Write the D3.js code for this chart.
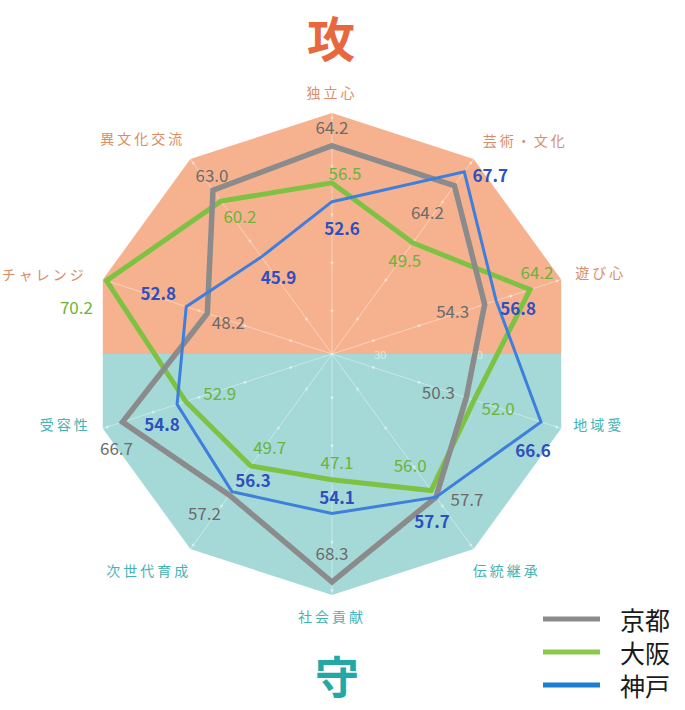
<!DOCTYPE html>
<html>
<head>
<meta charset="utf-8">
<script src="https://cdn.jsdelivr.net/npm/d3@7"></script>
<style>
  html, body { margin: 0; padding: 0; background: #ffffff; }
  svg { display: block; font-family: "Noto Sans CJK JP", "Noto Sans", sans-serif; }
</style>
</head>
<body>
<div id="chart"></div>
<script>
// axes clockwise from the top
const axes = ['独立心', '芸術・文化', '遊び心', '地域愛', '伝統継承', '社会貢献', '次世代育成', '受容性', 'チャレンジ', '異文化交流'];
const kyoto = [64.2, 64.2, 54.3, 50.3, 57.7, 68.3, 57.2, 66.7, 48.2, 63.0];
const osaka = [56.5, 49.5, 64.2, 52.0, 56.0, 47.1, 49.7, 52.9, 70.2, 60.2];
const kobe = [52.6, 67.7, 56.8, 66.6, 57.7, 54.1, 56.3, 54.8, 52.8, 45.9];
const cities = ['京都', '大阪', '神戸'];
const valueDomain = [21, 71];
const tickValues = [30, 50];
const gridTicks = [30, 40, 50, 60, 70];

// value label nudges from each vertex (hand placed in the original)
const kyotoLabelOff = [[0, -19], [-27, 26], [-32, 6], [-28, -6], [31, 1], [0, -29], [-25, 17], [-6, 25], [21, 8], [-1, -16]];
const osakaLabelOff = [[13, -10], [-8, 17], [7, -18], [24, 7], [-21, -26], [5, -18], [19, -19], [34, -9], [-30, 26], [19, 14]];
const kobeLabelOff = [[10, 26], [26, 3], [22, 7], [-8, 28], [-4, 23], [5, -17], [21, -12], [-15, 19], [-28, -14], [17, 20]];

const width = 685, height = 710;
const cx = 332, cy = 354, R = 241;
const step = 2 * Math.PI / axes.length;

const svg = d3.select('#chart').append('svg')
  .attr('width', width)
  .attr('height', height);

const r = d3.scaleLinear().domain(valueDomain).range([0, R]);
const px = (i, rad) => cx + rad * Math.sin(i * step);
const py = (i, rad) => cy - rad * Math.cos(i * step);

const defs = svg.append('defs');
defs.append('clipPath').attr('id', 'top-half')
  .append('rect').attr('x', 0).attr('y', 0).attr('width', width).attr('height', cy);
defs.append('clipPath').attr('id', 'bottom-half')
  .append('rect').attr('x', 0).attr('y', cy).attr('width', width).attr('height', height - cy);

// background decagon: orange top (攻), teal bottom (守)
const outline = d3.lineRadial()
  .angle((d, i) => i * step)
  .radius(R)
  .curve(d3.curveLinearClosed);

svg.append('g').attr('clip-path', 'url(#top-half)')
  .append('path')
  .attr('transform', `translate(${cx},${cy})`)
  .attr('d', outline(axes))
  .attr('fill', '#f6b28f');

svg.append('g').attr('clip-path', 'url(#bottom-half)')
  .append('path')
  .attr('transform', `translate(${cx},${cy})`)
  .attr('d', outline(axes))
  .attr('fill', '#a4d9d8');

// spokes + small tick dots
const grid = svg.append('g').attr('transform', `translate(${cx},${cy})`);
grid.selectAll('line')
  .data(axes)
  .join('line')
  .attr('x1', 0).attr('y1', 0)
  .attr('x2', (d, i) => R * Math.sin(i * step))
  .attr('y2', (d, i) => -R * Math.cos(i * step))
  .attr('stroke', '#ffffff')
  .attr('stroke-opacity', 0.4)
  .attr('stroke-width', 1);

axes.forEach((a, i) => {
  grid.selectAll(null)
    .data(gridTicks)
    .join('circle')
    .attr('cx', d => r(d) * Math.sin(i * step))
    .attr('cy', d => -r(d) * Math.cos(i * step))
    .attr('r', 1.5)
    .attr('fill', '#ffffff')
    .attr('fill-opacity', 0.45);
});

grid.selectAll('text.tick')
  .data(tickValues)
  .join('text')
  .attr('class', 'tick')
  .attr('x', d => r(d) + 5)
  .attr('y', 0)
  .attr('text-anchor', 'middle')
  .attr('dominant-baseline', 'central')
  .attr('font-size', 11)
  .attr('fill', '#ffffff')
  .attr('fill-opacity', 0.55)
  .text(d => d);

// series
const series = [
  { name: '大阪', values: osaka, color: '#7dc242', text: '#6db33a', width: 5, weight: 400, off: osakaLabelOff },
  { name: '京都', values: kyoto, color: '#8b8b8b', text: '#6b6b6b', width: 5.5, weight: 400, off: kyotoLabelOff },
  { name: '神戸', values: kobe, color: '#3f7fdc', text: '#2e4fbf', width: 3, weight: 700, off: kobeLabelOff }
];

const radar = d3.lineRadial()
  .angle((d, i) => i * step)
  .radius(d => r(d))
  .curve(d3.curveLinearClosed);

const lines = svg.append('g').attr('transform', `translate(${cx},${cy})`);
series.forEach(s => {
  lines.append('path')
    .attr('d', radar(s.values))
    .attr('fill', 'none')
    .attr('stroke', s.color)
    .attr('stroke-width', s.width)
    .attr('stroke-linejoin', 'miter')
    .attr('stroke-miterlimit', 10);
});

series.forEach(s => {
  svg.append('g').selectAll('text')
    .data(s.values)
    .join('text')
    .attr('x', (d, i) => px(i, r(d)) + s.off[i][0])
    .attr('y', (d, i) => py(i, r(d)) + s.off[i][1])
    .attr('text-anchor', 'middle')
    .attr('dominant-baseline', 'central')
    .attr('font-size', 17)
    .attr('font-weight', s.weight)
    .attr('fill', s.text)
    .text(d => d.toFixed(1));
});

// axis names
const labelR = 260;
const labelNudge = [[0, -2], [-2, -4], [-4, -2], [-6, -10], [-12, 6], [0, 2], [12, 6], [6, -10], [2, 0], [6, -6]];
svg.append('g').selectAll('text')
  .data(axes)
  .join('text')
  .attr('x', (d, i) => px(i, labelR) + labelNudge[i][0])
  .attr('y', (d, i) => py(i, labelR) + labelNudge[i][1])
  .attr('text-anchor', (d, i) => i === 0 || i === 5 ? 'middle' : (i < 5 ? 'start' : 'end'))
  .attr('dominant-baseline', 'central')
  .attr('font-size', 14)
  .attr('letter-spacing', 3)
  .attr('fill', (d, i) => (i <= 2 || i >= 8) ? '#d98d68' : '#45b3b3')
  .text(d => d);

// 攻 / 守
svg.append('text')
  .attr('x', 331).attr('y', 36)
  .attr('text-anchor', 'middle')
  .attr('dominant-baseline', 'central')
  .attr('font-size', 48)
  .attr('font-weight', 700)
  .attr('fill', '#e8683d')
  .text('攻');

svg.append('text')
  .attr('x', 337).attr('y', 675)
  .attr('text-anchor', 'middle')
  .attr('dominant-baseline', 'central')
  .attr('font-size', 44)
  .attr('font-weight', 700)
  .attr('fill', '#22a8a6')
  .text('守');

// legend
const legendColors = ['#8b8b8b', '#8cc84b', '#1a7fd0'];
const legend = svg.append('g').attr('transform', 'translate(543,619)');
const rows = legend.selectAll('g')
  .data(cities)
  .join('g')
  .attr('transform', (d, i) => `translate(0,${i * 33})`);
rows.append('line')
  .attr('x1', 0).attr('x2', 57)
  .attr('y1', 0).attr('y2', 0)
  .attr('stroke', (d, i) => legendColors[i])
  .attr('stroke-width', 5);
rows.append('text')
  .attr('x', 77).attr('y', 0)
  .attr('dominant-baseline', 'central')
  .attr('font-size', 25)
  .attr('fill', '#1a1a1a')
  .text(d => d);
</script>
</body>
</html>
